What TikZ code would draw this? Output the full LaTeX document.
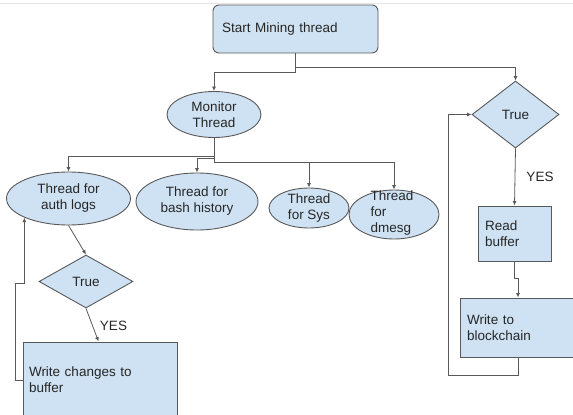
\documentclass[tikz,border=0pt]{standalone}
\usepackage{fontspec}
\setmainfont{Liberation Sans}
\usetikzlibrary{shapes.geometric,arrows.meta,calc}
\definecolor{fillb}{HTML}{CFE2F3}
\definecolor{edge}{HTML}{595959}
\begin{document}
\begin{tikzpicture}[x=1pt,y=-1pt,
 font=\fontsize{13.5}{16}\selectfont,
 box/.style={draw=edge,fill=fillb,line width=0.9pt,inner ysep=0pt,align=left,anchor=center,text=black!85},
 ell/.style={draw=edge,fill=fillb,line width=0.9pt,ellipse,inner sep=0pt},
 dia/.style={draw=edge,fill=fillb,line width=0.9pt,diamond,inner sep=0pt,text=black!85},
 txt/.style={inner sep=0pt,align=center,text=black!85},
 arr/.style={draw=edge,line width=0.8pt,-{Latex[length=4.5pt,width=4pt]}}]
\useasboundingbox (0,0) rectangle (573,415);
\draw[black!10,line width=0.8pt] (0,3) coordinate (tl) -- (573,3) coordinate (tr);

% boxes
\node[box,rounded corners=6pt,minimum width=165pt,minimum height=48pt,text width=147pt,inner xsep=9pt] (s) at (295.5,29) {Start Mining thread};
\node[box,minimum width=73pt,minimum height=55pt,text width=59pt,inner xsep=7pt] (rb) at (514.5,233.5) {Read\\buffer};
\node[box,minimum width=116pt,minimum height=59pt,text width=102pt,inner xsep=7pt] (wb) at (518,327.5) {Write to\\blockchain};
\node[box,minimum width=154pt,minimum height=76pt,text width=142pt,inner xsep=6pt] (w1) at (100,380) {Write changes to\\buffer};

% ellipses
\node[ell,minimum width=94pt,minimum height=46pt] (m) at (214,114.5) {};
\node[txt] (mt) at (m) {Monitor\\Thread};
\node[ell,minimum width=124pt,minimum height=53pt] (a) at (68.5,198.5) {};
\node[txt] (at) at (a) {Thread for\\auth logs};
\node[ell,minimum width=122pt,minimum height=57pt] (b) at (197,201.5) {};
\node[txt] (bt) at (b) {Thread for\\bash history};
\node[ell,minimum width=80pt,minimum height=40pt] (sy) at (309,208) {};
\node[txt] (syt) at (sy) {Thread\\for Sys};
\node[ell,minimum width=90pt,minimum height=49pt] (dm) at (394,214.5) {};
\node[txt,align=left] (dmt) at (392,213) {Thread\\for\\dmesg};

% diamonds
\node[dia,minimum width=87pt,minimum height=67pt] (t1) at (515.5,114.5) {True};
\node[dia,minimum width=94pt,minimum height=53pt] (d1) at (86,281.5) {True};

% labels
\node[txt] (y1) at (113.5,326) {YES};
\node[txt] (y2) at (540,177) {YES};

% connectors
\draw[arr] (s.south) -- ++(0,19) -| (m.north);
\draw[arr] ($(s.south)+(0,14)$) -| (t1.north);
\draw[arr] (m.south) -- ++(0,24.5) -| (dm.north);
\draw[arr] ($(m.south)+(0,24.5)$) -| (sy.north);
\draw[arr] ($(m.south)+(0,18.5)$) -| (a.north);
\draw[arr] ($(m.south)+(0,20.5)$) -| (b.north);
\draw[arr] (a.south) -- (d1.north);
\draw[arr] (d1.south) -- ($(w1.north west)+(76,0)$);
\coordinate (lp) at (15,283);
\draw[arr] (w1.west) -| (lp) -- (lp -| a.south west) -- (a.south west);
\draw[arr] (t1.south) -- (rb.north);
\draw[arr] (rb.south) -- ++(0,17) -| (wb.north);
\coordinate (rl) at (448,375);
\draw[arr] (wb.south) |- (rl) |- (t1.west);
\end{tikzpicture}
\end{document}
